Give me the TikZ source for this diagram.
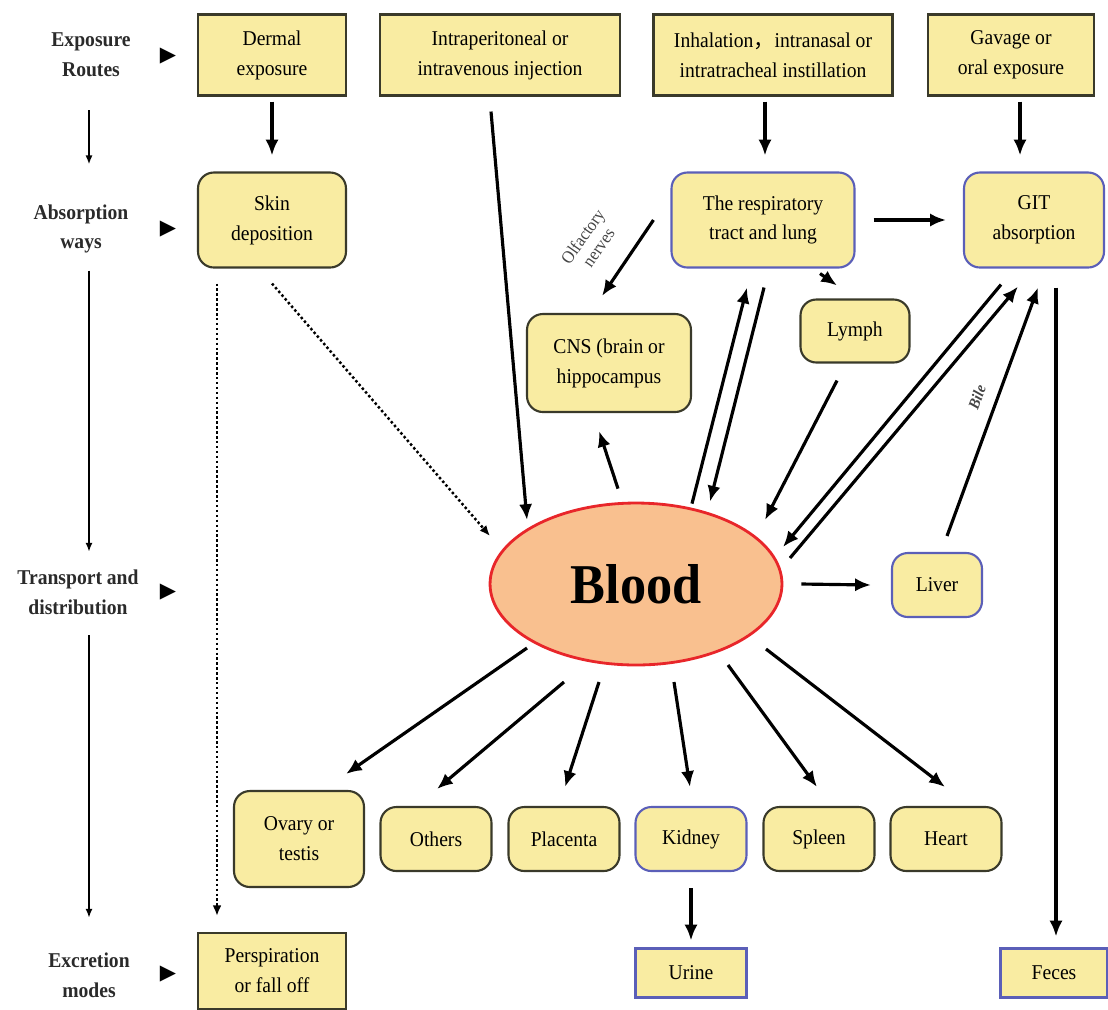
\documentclass[tikz,border=0pt]{standalone}
\usepackage{fontspec}
\setmainfont{Liberation Serif}[FakeStretch=0.93]
\newfontfamily\cjk{Noto Sans CJK SC}
\newfontfamily\symfont{DejaVu Sans}
\usepackage{xcolor}
\usetikzlibrary{shapes.geometric, arrows.meta, calc}

\definecolor{boxfill}{HTML}{F9ECA2}
\definecolor{boxline}{HTML}{3A3A2A}
\definecolor{bluebord}{HTML}{5B5FB8}
\definecolor{bloodfill}{HTML}{F9C08F}
\definecolor{bloodline}{HTML}{E8262A}
\definecolor{sidetext}{HTML}{2A2A2A}
\definecolor{notegray}{HTML}{444444}

\tikzstyle{arrow} = [line width=1.8pt,-{Latex[length=9pt,width=7.5pt]}]
\tikzstyle{sidearrow} = [line width=0.9pt,-{Latex[length=5pt,width=4pt]}]
\tikzstyle{dotarrow} = [line width=1.4pt,dash pattern=on 1.4pt off 1.4pt,-{Latex[length=6pt,width=5pt]}]

\tikzset{
  sqbox/.style = {
    draw           = boxline,
    fill           = boxfill,
    line width     = 1.2pt,
    align          = center,
    inner sep      = 2pt,
    font           = \fontsize{12}{17}\selectfont
  },
  rbox/.style     = {sqbox, rounded corners = 9pt},
  bluebox/.style  = {draw = bluebord},
  side/.style     = {align = center, text = sidetext, minimum height = 1.2cm,
                     font = \bfseries\fontsize{12}{17}\selectfont},
  marker/.style   = {inner sep = 0pt, font = \symfont\fontsize{12}{12}\selectfont},
  note/.style     = {text = notegray, align = center, inner sep = 1pt}
}

\begin{document}
\begin{tikzpicture}[x=0.02cm, y=-0.02cm]
\useasboundingbox (0,0) rectangle (1108,1009);

% Stage labels on the left
\node[side] (lExpo)  at (91,55)  {Exposure\\Routes};
\node[side] (lAbs)   at (81,229) {Absorption\\ways};
\node[side] (lTrans) at (78,592) {Transport and\\distribution};
\node[side] (lExcr)  at (89,975) {Excretion\\modes};

\node[marker] (mk1) at (168,56)  {▶};
\node[marker] (mk2) at (168,229) {▶};
\node[marker] (mk3) at (168,592) {▶};
\node[marker] (mk4) at (168,974) {▶};

\draw[sidearrow] ($(lExpo.south)+(-2,25)$) -- ($(lAbs.north)+(8,-34)$);
\draw[sidearrow] ($(lAbs.south)+(8,11)$) -- ($(lTrans.north)+(11,-10)$);
\draw[sidearrow] ($(lTrans.south)+(11,13)$) -- ($(lExcr.north)+(0,-27)$);

% Exposure routes
\node[sqbox, minimum width=2.96cm, minimum height=1.62cm] (dermal) at (272,55)  {Dermal\\exposure};
\node[sqbox, minimum width=4.8cm,  minimum height=1.62cm] (inject) at (500,55)  {Intraperitoneal or\\intravenous injection};
\node[sqbox, minimum width=4.78cm, minimum height=1.62cm] (inhal)  at (773,55)  {Inhalation{\cjk ，}intranasal or\\intratracheal instillation};
\node[sqbox, minimum width=3.32cm, minimum height=1.62cm] (gavage) at (1011,55) {Gavage or\\oral exposure};

% Absorption ways
\node[rbox, minimum width=2.96cm, minimum height=1.9cm] (skin) at (272,220) {Skin\\deposition};
\node[rbox, bluebox, minimum width=3.66cm, minimum height=1.9cm] (resp) at (763,220) {The respiratory\\tract and lung};
\node[rbox, bluebox, minimum width=2.8cm, minimum height=1.9cm] (git) at (1034,220) {GIT\\absorption};

% Middle organs
\node[rbox, minimum width=3.28cm, minimum height=1.96cm] (cns) at (609,363) {CNS (brain or\\hippocampus};
\node[rbox, minimum width=2.18cm, minimum height=1.26cm] (lymph) at (855,331) {Lymph};
\node[ellipse, draw=bloodline, fill=bloodfill, line width=1.6pt, inner sep=0pt,
      minimum width=5.84cm, minimum height=3.24cm,
      font=\bfseries\fontsize{32}{36}\selectfont] (blood) at (636,584) {Blood};
\node[rbox, bluebox, minimum width=1.8cm, minimum height=1.28cm] (liver) at (937,585) {Liver};

% Distribution targets
\node[rbox, minimum width=2.6cm,  minimum height=1.92cm] (ovary)    at (299,839) {Ovary or\\testis};
\node[rbox, minimum width=2.22cm, minimum height=1.28cm] (others)   at (436,839) {Others};
\node[rbox, minimum width=2.22cm, minimum height=1.28cm] (placenta) at (564,839) {Placenta};
\node[rbox, bluebox, minimum width=2.22cm, minimum height=1.28cm] (kidney) at (691,839) {Kidney};
\node[rbox, minimum width=2.22cm, minimum height=1.28cm] (spleen)   at (819,839) {Spleen};
\node[rbox, minimum width=2.22cm, minimum height=1.28cm] (heart)    at (946,839) {Heart};

% Excretion modes
\node[sqbox, minimum width=2.96cm, minimum height=1.52cm] (persp) at (272,971) {Perspiration\\or fall off};
\node[sqbox, bluebox, minimum width=2.22cm, minimum height=0.98cm] (urine) at (691,973) {Urine};
\node[sqbox, bluebox, minimum width=2.14cm, minimum height=0.98cm] (feces) at (1054,973) {Feces};

% Routes into absorption
\draw[arrow] ($(dermal.south)+(0,5)$) -- ($(skin.north)+(0,-16)$);
\draw[arrow] ($(inhal.south)+(-8,5)$) -- ($(resp.north)+(2,-16)$);
\draw[arrow] ($(gavage.south)+(9,5)$) -- ($(git.north)+(-14,-16)$);
\draw[arrow] ($(resp.east)+(18,0)$) -- ($(git.west)+(-17,0)$);
\draw[arrow] ($(inject.south)+(-9,15)$) -- ($(blood)+(-109,-64)$);

% Skin paths
\draw[dotarrow] ($(skin.south)+(0,15)$) -- ($(blood)+(-146,-48)$);
\draw[dotarrow] ($(skin.south)+(-55,15)$) -- ($(persp.north)+(-55,-16)$);

% Respiratory tract
\draw[arrow] ($(resp.west)+(-17,0)$) -- ($(cns.north)+(-7,-17)$);
\node[note, rotate=55, font=\fontsize{10}{11}\selectfont] (olf) at ($(resp.west)+(-80,22)$) {Olfactory\\nerves};
\draw[arrow] ($(resp.south)+(57,5)$) -- ($(lymph.north)+(-18,-13)$);
\draw[arrow] ($(blood.north)+(56,2)$) -- ($(resp.south)+(-16,19)$);
\draw[arrow] ($(resp.south)+(1,19)$) -- ($(blood.north)+(74,0)$);
\draw[arrow] ($(lymph.south)+(-18,17)$) -- ($(blood)+(129,-64)$);

% GIT and liver
\draw[arrow] ($(git.south)+(-33,16)$) -- ($(blood)+(147,-37)$);
\draw[arrow] ($(blood)+(154,-26)$) -- ($(git.south)+(-16,18)$);
\draw[arrow] ($(liver.north)+(10,-16)$) -- ($(git.south)+(4,19)$);
\node[note, rotate=70, font=\bfseries\itshape\fontsize{9}{10}\selectfont] (bile) at ($(liver.north)+(40,-155)$) {Bile};
\draw[arrow] ($(git.south)+(22,19)$) -- ($(feces.north)+(2,-11)$);

% Blood to organs
\draw[arrow] ($(blood.north)+(-18,-13)$) -- ($(cns.south)+(-10,18)$);
\draw[arrow] ($(blood.east)+(18,0)$) -- ($(liver.west)+(-20,0)$);
\draw[arrow] ($(blood)+(-109,64)$) -- ($(ovary.north)+(47,-16)$);
\draw[arrow] ($(blood)+(-72,98)$) -- ($(others.north)+(1,-17)$);
\draw[arrow] ($(blood)+(-37,98)$) -- ($(placenta.north)+(1,-19)$);
\draw[arrow] ($(blood)+(38,98)$) -- ($(kidney.north)+(-1,-19)$);
\draw[arrow] ($(blood)+(92,81)$) -- ($(spleen.north)+(-2,-19)$);
\draw[arrow] ($(blood)+(130,65)$) -- ($(heart.north)+(-1,-19)$);
\draw[arrow] ($(kidney.south)+(0,16)$) -- ($(urine.north)+(0,-7)$);

\end{tikzpicture}
\end{document}
